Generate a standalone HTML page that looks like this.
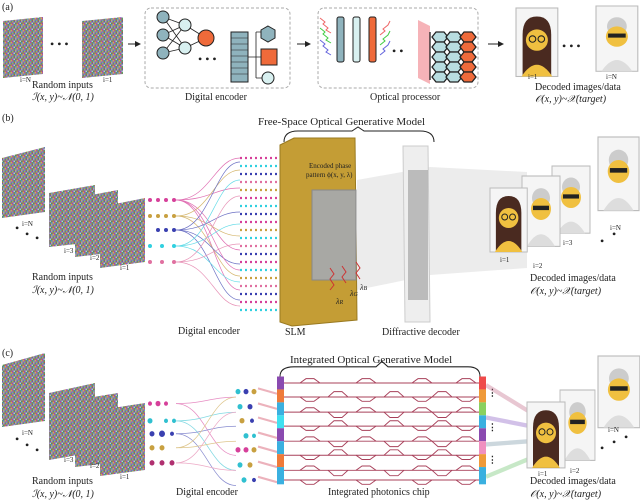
<!DOCTYPE html><html><head><meta charset="utf-8"><style>
body{margin:0;width:640px;height:500px;background:#fff;overflow:hidden;font-family:"Liberation Serif",serif;color:#222}
svg{position:absolute;left:0;top:0}
</style></head><body>
<svg width="640" height="500" viewBox="0 0 640 500" font-family="Liberation Serif, serif" fill="#222">
<defs>
<pattern id="nz" width="6" height="6" patternUnits="userSpaceOnUse">
<rect width="6" height="6" fill="#8a8a9a"/>
<rect x="0" y="0" width="1.5" height="1.5" fill="#d04a8a"/><rect x="1.5" y="0" width="1.5" height="1.5" fill="#4ab06a"/>
<rect x="3" y="0" width="1.5" height="1.5" fill="#6a6ad0"/><rect x="4.5" y="0" width="1.5" height="1.5" fill="#c0c050"/>
<rect x="0" y="1.5" width="1.5" height="1.5" fill="#50b0c0"/><rect x="1.5" y="1.5" width="1.5" height="1.5" fill="#b05a4a"/>
<rect x="3" y="1.5" width="1.5" height="1.5" fill="#8ad08a"/><rect x="4.5" y="1.5" width="1.5" height="1.5" fill="#a050b0"/>
<rect x="0" y="3" width="1.5" height="1.5" fill="#c09a50"/><rect x="1.5" y="3" width="1.5" height="1.5" fill="#5070b0"/>
<rect x="3" y="3" width="1.5" height="1.5" fill="#d07ab0"/><rect x="4.5" y="3" width="1.5" height="1.5" fill="#40a080"/>
<rect x="0" y="4.5" width="1.5" height="1.5" fill="#7a60c0"/><rect x="1.5" y="4.5" width="1.5" height="1.5" fill="#c0c0c0"/>
<rect x="3" y="4.5" width="1.5" height="1.5" fill="#50a050"/><rect x="4.5" y="4.5" width="1.5" height="1.5" fill="#d06060"/>
</pattern>
<marker id="ar" markerWidth="6" markerHeight="6" refX="5" refY="3" orient="auto"><path d="M0,0L6,3L0,6z" fill="#222"/></marker>
<g id="f1"><rect x="0" y="0" width="38" height="64" fill="#f5f5f5" stroke="#bbb"/><path d="M6,64 L6,25 Q6,8 19,8 Q32,8 32,25 L32,64z" fill="#4a2a20"/><circle cx="19" cy="30" r="10" fill="#f0c040"/><path d="M5,64 Q19,42 33,64z" fill="#f0c040"/><circle cx="15" cy="29" r="3" fill="none" stroke="#222"/><circle cx="23" cy="29" r="3" fill="none" stroke="#222"/></g>
<g id="f2"><rect x="0" y="0" width="38" height="64" fill="#f5f5f5" stroke="#bbb"/><circle cx="19" cy="20" r="9" fill="#ccc"/><circle cx="19" cy="30" r="10" fill="#f0c040"/><path d="M5,64 Q19,42 33,64z" fill="#ddd"/><rect x="11" y="27" width="16" height="4" fill="#222"/></g>
<g id="hx"><polygon points="0,5 4,0 12,0 16,5 12,10 4,10" stroke="#222" stroke-width="1.3"/></g>
</defs>
<g font-size="10">
<!-- (a) -->
<text x="2" y="10">(a)</text>
<polygon points="3,21 43,17 43,74 3,78" fill="url(#nz)"/>
<polygon points="82,21 123,17 123,74 82,78" fill="url(#nz)"/>
<text x="50" y="48" font-size="12">• • •</text>
<text x="20" y="82" font-size="7">i=N</text><text x="103" y="82" font-size="7">i=1</text>
<text x="32" y="88">Random inputs</text>
<text x="32" y="100" font-style="italic">ℐ(x, y)~𝒩(0, 1)</text>
<line x1="128" y1="44" x2="140" y2="44" stroke="#222" marker-end="url(#ar)"/>
<rect x="145" y="8" width="145" height="80" rx="6" fill="none" stroke="#aaa" stroke-dasharray="3,2"/>
<g stroke="#222" stroke-width=".8"><path d="M163,17 L185,25 M163,17 L185,48 M163,35 L185,25 M163,35 L185,48 M163,53 L185,25 M163,53 L185,48 M185,25 L206,38 M185,48 L206,38 M248,57 L262,57 M256,32 L256,78 M256,32 L262,32 M256,78 L262,78"/></g>
<g stroke="#222" fill="#8fb3bd"><circle cx="163" cy="17" r="6"/><circle cx="163" cy="35" r="6"/><circle cx="163" cy="53" r="6"/>
<circle cx="185" cy="25" r="6" fill="#d8f0f0"/><circle cx="185" cy="48" r="6" fill="#d8f0f0"/><circle cx="206" cy="38" r="8" fill="#ef6a3a"/>
<rect x="231" y="32" width="17" height="50" fill="#8fb3bd"/><polygon points="268,26 275,30 275,38 268,42 261,38 261,30"/>
<rect x="261" y="49" width="16" height="16" fill="#ef6a3a"/><circle cx="268" cy="78" r="6" fill="#d8f0f0"/></g>
<g stroke="#222" stroke-width=".6"><path d="M231,38H248M231,44H248M231,50H248M231,56H248M231,62H248M231,68H248M231,74H248"/></g>
<text x="198" y="63" font-size="12">• • •</text>
<text x="185" y="100">Digital encoder</text>
<line x1="297" y1="44" x2="310" y2="44" stroke="#222" marker-end="url(#ar)"/>
<rect x="318" y="8" width="160" height="80" rx="6" fill="none" stroke="#aaa" stroke-dasharray="3,2"/>
<g stroke="#222"><rect x="337" y="17" width="7" height="45" rx="2" fill="#8fb3bd"/><rect x="353" y="17" width="7" height="45" rx="2" fill="#d8f0f0"/><rect x="369" y="17" width="7" height="45" rx="2" fill="#ef6a3a"/></g>
<path d="M320,18 l5,4 l-2,2 l5,4 l-2,2 l5,3" stroke="#e66" fill="none"/><path d="M320,28 l5,4 l-2,2 l5,4 l-2,2 l5,3" stroke="#4c4" fill="none"/><path d="M320,40 l5,4 l-2,2 l5,4 l-2,2 l5,3" stroke="#66d" fill="none"/>
<path d="M380,35 l5,-4 l-2,-2 l5,-4 l2,-4" stroke="#e66" fill="none"/><path d="M380,45 l5,-4 l-2,-2 l5,-4 l2,-4" stroke="#4c4" fill="none"/><path d="M380,55 l5,-4 l-2,-2 l5,-4 l2,-4" stroke="#66d" fill="none"/>
<text x="392" y="55" font-size="12">• •</text>
<polygon points="418,20 430,26 430,84 418,78" fill="#f08088" opacity=".6"/>
<path d="M430,32V80" stroke="#222" stroke-width="1.3"/>
<g fill="#b8dde0"><use href="#hx" x="432" y="32"/><use href="#hx" x="432" y="42"/><use href="#hx" x="432" y="52"/><use href="#hx" x="432" y="62"/><use href="#hx" x="432" y="72"/>
<use href="#hx" x="446" y="32"/><use href="#hx" x="446" y="42"/><use href="#hx" x="446" y="52"/><use href="#hx" x="446" y="62"/><use href="#hx" x="446" y="72"/></g>
<g fill="#ef6a3a"><use href="#hx" x="460" y="32"/><use href="#hx" x="460" y="42"/><use href="#hx" x="460" y="52"/><use href="#hx" x="460" y="62"/><use href="#hx" x="460" y="72"/></g>
<text x="370" y="100">Optical  processor</text>
<line x1="488" y1="44" x2="503" y2="44" stroke="#222" marker-end="url(#ar)"/>
<use href="#f1" transform="translate(516,8) scale(1.1,1.07)"/>
<text x="562" y="50" font-size="12">• • •</text>
<use href="#f2" transform="translate(596,6) scale(1.1,1.02)"/>
<text x="528" y="79" font-size="7">i=1</text><text x="606" y="79" font-size="7">i=N</text>
<text x="535" y="90">Decoded images/data</text>
<text x="535" y="102" font-style="italic">𝒪(x, y)~𝒳(target)</text>

<!-- (b) -->
<text x="2" y="121">(b)</text>
<text x="258" y="125" font-size="11">Free-Space Optical Generative Model</text>
<path d="M284,142 Q284,131 298,131 L352,131 L358,127 L364,131 L420,131 Q434,131 434,142" fill="none" stroke="#222"/>
<polygon points="2,158 45,147 45,212 2,218" fill="url(#nz)"/>
<polygon points="49,193 95,185 95,242 49,247" fill="url(#nz)"/>
<polygon points="75,198 118,190 118,252 75,257" fill="url(#nz)"/>
<polygon points="100,207 145,198 145,262 100,268" fill="url(#nz)"/>
<text x="22" y="226" font-size="7">i=N</text>
<text x="15" y="232" font-size="12">•</text><text x="25" y="238" font-size="12">•</text><text x="35" y="242" font-size="12">•</text>
<text x="64" y="253" font-size="7">i=3</text><text x="90" y="260" font-size="7">i=2</text><text x="120" y="270" font-size="7">i=1</text>
<text x="32" y="280">Random inputs</text>
<text x="32" y="293" font-style="italic">ℐ(x, y)~𝒩(0, 1)</text>
<g fill="#d6409a"><circle cx="150" cy="200" r="2"/><circle cx="158" cy="200" r="2"/><circle cx="166" cy="200" r="2"/><circle cx="174" cy="200" r="2"/></g>
<g fill="#c8a040"><circle cx="150" cy="216" r="2"/><circle cx="158" cy="216" r="2"/><circle cx="166" cy="216" r="2"/><circle cx="174" cy="216" r="2"/></g>
<g fill="#3a40b0"><circle cx="158" cy="230" r="2"/><circle cx="166" cy="230" r="2"/><circle cx="174" cy="230" r="2"/></g>
<g fill="#30d0e0"><circle cx="150" cy="246" r="2"/><circle cx="162" cy="246" r="2"/><circle cx="174" cy="246" r="2"/></g>
<g fill="#e070a0"><circle cx="150" cy="262" r="2"/><circle cx="162" cy="262" r="2"/><circle cx="174" cy="262" r="2"/></g>
<g stroke-width=".7" fill="none" opacity=".75">
<path d="M176,200 C210,200 215,158 240,158" stroke="#d6409a"/><path d="M176,200 C210,200 215,188 240,188" stroke="#d6409a"/><path d="M176,200 C210,200 215,250 240,250" stroke="#d6409a"/><path d="M176,200 C210,200 215,290 240,290" stroke="#d6409a"/>
<path d="M176,216 C210,216 215,170 240,170" stroke="#c8a040"/><path d="M176,216 C210,216 215,236 240,236" stroke="#c8a040"/><path d="M176,216 C210,216 215,276 240,276" stroke="#c8a040"/>
<path d="M176,230 C210,230 215,162 240,162" stroke="#3a40b0"/><path d="M176,230 C210,230 215,212 240,212" stroke="#3a40b0"/><path d="M176,230 C210,230 215,264 240,264" stroke="#3a40b0"/><path d="M176,230 C210,230 215,300 240,300" stroke="#3a40b0"/>
<path d="M176,246 C210,246 215,180 240,180" stroke="#30d0e0"/><path d="M176,246 C210,246 215,224 240,224" stroke="#30d0e0"/><path d="M176,246 C210,246 215,282 240,282" stroke="#30d0e0"/>
<path d="M176,262 C210,262 215,196 240,196" stroke="#e070a0"/><path d="M176,262 C210,262 215,244 240,244" stroke="#e070a0"/><path d="M176,262 C210,262 215,306 240,306" stroke="#e070a0"/><path d="M176,200 C210,200 215,270 240,270" stroke="#d6409a"/>
</g>
<g stroke-dasharray="2,3" stroke-width="2.2">
<path d="M240,158 H280" stroke="#d6409a"/><path d="M240,166 H280" stroke="#30d0e0"/><path d="M240,174 H280" stroke="#3a40b0"/><path d="M240,182 H280" stroke="#e070a0"/>
<path d="M240,190 H280" stroke="#c8a040"/><path d="M240,198 H280" stroke="#d6409a"/><path d="M240,206 H280" stroke="#30d0e0"/><path d="M240,214 H280" stroke="#3a40b0"/>
<path d="M240,222 H280" stroke="#d6409a"/><path d="M240,230 H280" stroke="#c8a040"/><path d="M240,238 H280" stroke="#30d0e0"/><path d="M240,246 H280" stroke="#e070a0"/>
<path d="M240,254 H280" stroke="#3a40b0"/><path d="M240,262 H280" stroke="#d6409a"/><path d="M240,270 H280" stroke="#30d0e0"/><path d="M240,278 H280" stroke="#c8a040"/>
<path d="M240,286 H280" stroke="#e070a0"/><path d="M240,294 H280" stroke="#3a40b0"/><path d="M240,302 H280" stroke="#d6409a"/><path d="M240,310 H280" stroke="#30d0e0"/>
</g>
<text x="178" y="334">Digital encoder</text>
<polygon points="357,180 430,167 527,172 527,268 430,275 357,290" fill="#ddd" opacity=".55"/>
<polygon points="403,146 428,146 430,322 405,322" fill="#eee" stroke="#ccc"/>
<rect x="408" y="170" width="20" height="130" fill="#aaa" opacity=".75"/>
<polygon points="280,145 294,138 355,138 357,320 292,326 280,322" fill="#c49d35" stroke="#9a7a20"/>
<rect x="312" y="190" width="44" height="90" fill="#a8a8a4" stroke="#888"/>
<text x="309" y="168" font-size="7">Encoded phase</text><text x="306" y="177" font-size="7">pattern ϕ(x, y, λ)</text>
<path d="M330,268 l4,6 l-4,5 l4,6 l-4,5 M342,266 l4,6 l-4,5 l4,6 M356,262 l4,6 l-4,5 l4,6" fill="none" stroke="#c33"/>
<text x="336" y="304" font-size="8" font-style="italic">λ<tspan font-size="6">R</tspan></text><text x="350" y="296" font-size="8" font-style="italic">λ<tspan font-size="6">G</tspan></text><text x="360" y="290" font-size="8" font-style="italic">λ<tspan font-size="6">B</tspan></text>
<text x="285" y="335">SLM</text><text x="382" y="335">Diffractive decoder</text>
<use href="#f2" transform="translate(598,137) scale(1.08,1.15)"/>
<use href="#f2" transform="translate(552,166) scale(1,1.05)"/>
<use href="#f2" transform="translate(522,176) scale(1,1.1)"/>
<use href="#f1" transform="translate(490,188) scale(0.98,1)"/>
<text x="500" y="262" font-size="7">i=1</text><text x="533" y="268" font-size="7">i=2</text><text x="563" y="245" font-size="7">i=3</text><text x="610" y="230" font-size="7">i=N</text>
<text x="600" y="245" font-size="12">•</text><text x="612" y="238" font-size="12">•</text>
<text x="530" y="281">Decoded images/data</text>
<text x="530" y="294" font-style="italic">𝒪(x, y)~𝒳(target)</text>

<!-- (c) -->
<text x="2" y="356">(c)</text>
<text x="290" y="363" font-size="11">Integrated Optical Generative Model</text>
<polygon points="2,365 45,353 45,421 2,427" fill="url(#nz)"/>
<polygon points="49,393 95,383 95,452 49,460" fill="url(#nz)"/>
<polygon points="75,400 118,393 118,462 75,467" fill="url(#nz)"/>
<polygon points="100,410 145,403 145,470 100,476" fill="url(#nz)"/>
<text x="22" y="435" font-size="7">i=N</text>
<text x="15" y="443" font-size="12">•</text><text x="25" y="449" font-size="12">•</text><text x="35" y="454" font-size="12">•</text>
<text x="64" y="462" font-size="7">i=3</text><text x="90" y="468" font-size="7">i=2</text><text x="120" y="479" font-size="7">i=1</text>
<text x="32" y="484">Random inputs</text>
<text x="32" y="497" font-style="italic">ℐ(x, y)~𝒩(0, 1)</text>
<g transform="matrix(1,0,0,1.078,0,-19)">
<g><circle cx="150" cy="392" r="2" fill="#d6409a"/><circle cx="158" cy="392" r="2.5" fill="#d6409a"/><circle cx="166" cy="392" r="2" fill="#d6409a"/>
<circle cx="150" cy="408" r="2.5" fill="#30c0d0"/><circle cx="166" cy="408" r="2" fill="#30c0d0"/><circle cx="174" cy="408" r="2" fill="#30c0d0"/>
<circle cx="152" cy="420" r="2.5" fill="#3a40b0"/><circle cx="162" cy="420" r="3" fill="#3a40b0"/><circle cx="172" cy="420" r="2" fill="#3a40b0"/>
<circle cx="152" cy="433" r="2.5" fill="#c8a040"/><circle cx="162" cy="433" r="2.5" fill="#c8a040"/>
<circle cx="152" cy="447" r="2.5" fill="#b03070"/><circle cx="162" cy="447" r="2.5" fill="#b03070"/><circle cx="172" cy="447" r="2.5" fill="#b03070"/></g>
<g stroke-width=".7" fill="none" opacity=".6">
<path d="M176,392 C205,392 210,386 236,386" stroke="#d6409a"/><path d="M176,392 C205,392 210,440 236,440" stroke="#d6409a"/>
<path d="M176,408 C205,408 210,400 236,400" stroke="#30c0d0"/><path d="M176,408 C205,408 210,454 236,454" stroke="#30c0d0"/>
<path d="M176,420 C205,420 210,413 236,413" stroke="#3a40b0"/><path d="M176,420 C205,420 210,468 236,468" stroke="#3a40b0"/>
<path d="M176,433 C205,433 210,386 236,386" stroke="#c8a040"/><path d="M176,433 C205,433 210,427 236,427" stroke="#c8a040"/>
<path d="M176,447 C205,447 210,400 236,400" stroke="#e070a0"/><path d="M176,447 C205,447 210,454 236,454" stroke="#e070a0"/>
</g>
</g>
<g transform="matrix(1,0,0,1.078,0,-24.5)">
<path d="M280,372 Q280,363 294,363 L376,363 L382,358 L388,363 L468,363 Q480,363 480,372" fill="none" stroke="#222"/>
<g><circle cx="238" cy="386" r="2.5" fill="#30c0d0"/><circle cx="246" cy="386" r="2.5" fill="#3a40b0"/><circle cx="254" cy="386" r="2.5" fill="#c8a040"/>
<circle cx="240" cy="400" r="2.5" fill="#30c0d0"/><circle cx="250" cy="400" r="2.5" fill="#3a40b0"/>
<circle cx="242" cy="413" r="2.5" fill="#c8a040"/><circle cx="252" cy="413" r="2" fill="#3a40b0"/>
<circle cx="246" cy="427" r="2.5" fill="#30c0d0"/><circle cx="254" cy="427" r="2" fill="#30c0d0"/>
<circle cx="238" cy="440" r="2.5" fill="#d6409a"/><circle cx="246" cy="440" r="2.5" fill="#d6409a"/><circle cx="254" cy="440" r="2.5" fill="#c8a040"/>
<circle cx="240" cy="454" r="2.5" fill="#30c0d0"/><circle cx="250" cy="454" r="2.5" fill="#c8a040"/>
<circle cx="244" cy="468" r="2.5" fill="#30c0d0"/><circle cx="254" cy="468" r="2" fill="#3a40b0"/></g>
<g stroke="#e08090" stroke-width="2" opacity=".6"><path d="M258,383 L277,388 M258,397 L277,402 M258,410 L277,415 M258,424 L277,429 M258,437 L277,442 M258,451 L277,456 M258,465 L277,470"/></g>
<g><rect x="277" y="372" width="7" height="12" fill="#8a4ab0"/><rect x="277" y="384" width="7" height="12" fill="#ef7a3a"/><rect x="277" y="396" width="7" height="12" fill="#3ab0e0"/><rect x="277" y="408" width="7" height="12" fill="#40e0f0"/><rect x="277" y="420" width="7" height="12" fill="#8a4ab0"/><rect x="277" y="432" width="7" height="12" fill="#3ab0e0"/><rect x="277" y="444" width="7" height="12" fill="#ef7a3a"/><rect x="277" y="456" width="7" height="16" fill="#3ab0e0"/>
<rect x="479" y="372" width="7" height="12" fill="#ef4a4a"/><rect x="479" y="384" width="7" height="12" fill="#ef9a3a"/><rect x="479" y="396" width="7" height="12" fill="#8ad060"/><rect x="479" y="408" width="7" height="12" fill="#3ab0e0"/><rect x="479" y="420" width="7" height="12" fill="#8a4ab0"/><rect x="479" y="432" width="7" height="12" fill="#f090c0"/><rect x="479" y="444" width="7" height="12" fill="#ef9a3a"/><rect x="479" y="456" width="7" height="16" fill="#3ab0e0"/></g>
<g stroke="#a8405a" stroke-width=".9" fill="none">
<path d="M284,378H479M284,391H479M284,405H479M284,418H479M284,432H479M284,445H479M284,459H479M284,468H479"/>
<g id="ev"><path d="M300,378 l6,-4 h8 l6,4 M300,391 l6,4 h8 l6,-4 M300,405 l6,-4 h8 l6,4 M300,418 l6,4 h8 l6,-4 M300,432 l6,-4 h8 l6,4 M300,445 l6,4 h8 l6,-4 M300,459 l6,-4 h8 l6,4 M300,468 l6,4 h8 l6,-4"/></g>
<use href="#ev" x="56"/><use href="#ev" x="112"/><use href="#ev" x="156"/>
<g id="od"><path d="M328,391 l6,-5 h8 l6,5 M328,405 l6,5 h8 l6,-5 M328,418 l6,-5 h8 l6,5 M328,432 l6,5 h8 l6,-5 M328,445 l6,-5 h8 l6,5 M328,459 l6,5 h8 l6,-5"/></g>
<use href="#od" x="56"/><use href="#od" x="104"/>
</g>
<text x="488" y="390" font-size="9" font-weight="bold">⋮</text><text x="488" y="422" font-size="9" font-weight="bold">⋮</text><text x="488" y="452" font-size="9" font-weight="bold">⋮</text>
<g stroke-width="4" opacity=".35"><path d="M486,380 L530,405" stroke="#c06080"/><path d="M486,410 L530,418" stroke="#8050c0"/><path d="M486,435 L530,432" stroke="#7090a0"/><path d="M486,465 L530,448" stroke="#60c060"/></g>
</g>
<use href="#f2" transform="translate(598,356) scale(1.1,1.12)"/>
<use href="#f2" transform="translate(560,390) scale(0.92,1.1)"/>
<use href="#f1" transform="translate(527,402) scale(1,1.03)"/>
<text x="538" y="476" font-size="7">i=1</text><text x="570" y="473" font-size="7">i=2</text><text x="608" y="432" font-size="7">i=N</text>
<text x="600" y="452" font-size="12">•</text><text x="612" y="446" font-size="12">•</text><text x="624" y="441" font-size="12">•</text>
<text x="530" y="484">Decoded images/data</text>
<text x="530" y="497" font-style="italic">𝒪(x, y)~𝒳(target)</text>
<text x="176" y="495">Digital encoder</text>
<text x="328" y="495">Integrated photonics chip</text>
</g>
</svg>
</body></html>
